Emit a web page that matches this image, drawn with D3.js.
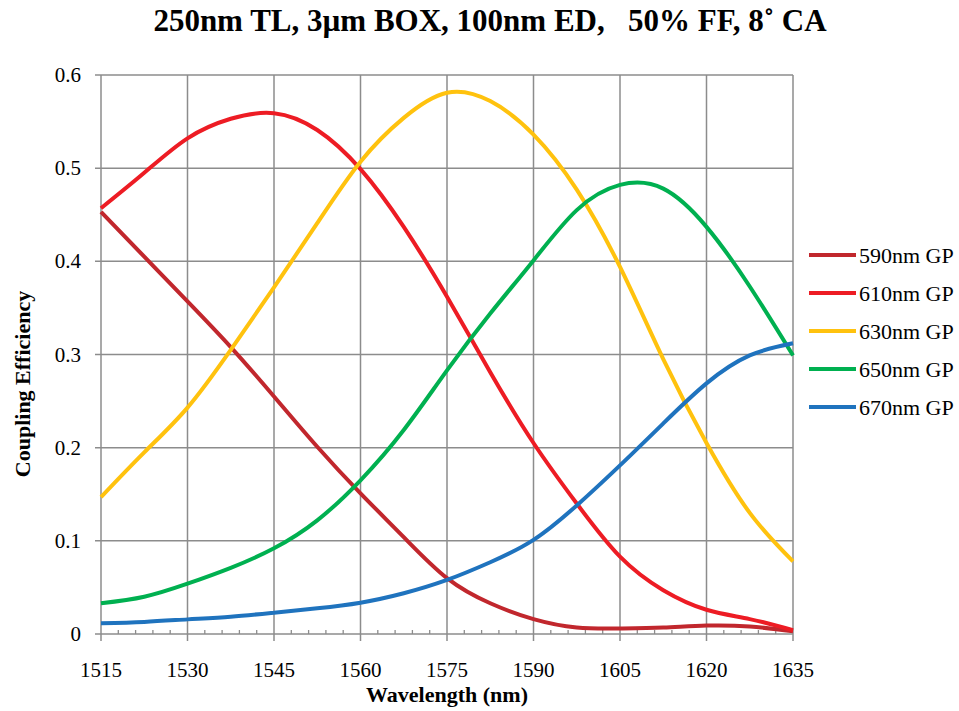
<!DOCTYPE html>
<html><head><meta charset="utf-8">
<script src="https://cdn.jsdelivr.net/npm/d3@7"></script>
<style>body{margin:0;background:#fff}</style>
</head><body>
<svg id="c" width="959" height="711"></svg>
<script>
const wavelengths = [1515,1522.5,1530,1537.5,1545,1552.5,1560,1567.5,1575,1582.5,1590,1597.5,1605,1612.5,1620,1627.5,1635];
const gp590 = [0.453,0.405,0.357,0.308,0.255,0.201,0.151,0.104,0.060,0.033,0.016,0.007,0.006,0.007,0.009,0.008,0.003];
const gp610 = [0.457,0.495,0.532,0.553,0.559,0.541,0.499,0.437,0.362,0.281,0.205,0.140,0.083,0.047,0.026,0.016,0.004];
const gp630 = [0.147,0.195,0.243,0.305,0.372,0.441,0.507,0.554,0.581,0.572,0.536,0.477,0.394,0.295,0.205,0.130,0.078];
const gp650 = [0.033,0.040,0.054,0.071,0.092,0.122,0.165,0.219,0.283,0.344,0.401,0.455,0.482,0.478,0.437,0.373,0.299];
const gp670 = [0.0115,0.013,0.0157,0.0186,0.0229,0.0276,0.0336,0.0437,0.058,0.077,0.101,0.138,0.181,0.226,0.269,0.299,0.312];
const seriesNames = ["590nm GP","610nm GP","630nm GP","650nm GP","670nm GP"];
const seriesColors = ["#c1272d","#ed1c24","#ffc20e","#00b050","#1f73be"];
const xTicks = [1515,1530,1545,1560,1575,1590,1605,1620,1635];
const yTicks = [0,0.1,0.2,0.3,0.4,0.5,0.6];
const title = "250nm TL, 3µm BOX, 100nm ED,   50% FF, 8˚ CA";

const svg = d3.select("#c");
const L=101, R=793, T=75, B=634;
const x = d3.scaleLinear().domain([1515,1635]).range([L,R]);
const y = d3.scaleLinear().domain([0,0.6]).range([B,T]);
const grid="#8c8c8c";
const font="'Liberation Serif','Times New Roman',serif";

// gridlines
svg.append("g").selectAll("line").data(yTicks).join("line")
  .attr("x1",L-6).attr("x2",R).attr("y1",d=>y(d)).attr("y2",d=>y(d))
  .attr("stroke",grid).attr("stroke-width",1.5);
svg.append("g").selectAll("line").data(xTicks).join("line")
  .attr("x1",d=>x(d)).attr("x2",d=>x(d)).attr("y1",T).attr("y2",B+7)
  .attr("stroke",grid).attr("stroke-width",1.5);
// minor ticks
const minor = d3.range(1515,1636,3).filter(v=>!xTicks.includes(v));
svg.append("g").selectAll("line").data(minor).join("line")
  .attr("x1",d=>x(d)).attr("x2",d=>x(d)).attr("y1",B-4).attr("y2",B)
  .attr("stroke",grid).attr("stroke-width",1.3);

// labels
svg.append("g").selectAll("text").data(yTicks).join("text")
  .attr("x",81).attr("y",d=>y(d)+7).attr("text-anchor","end")
  .attr("font-family",font).attr("font-size",21).text(d=>d===0?"0":d3.format(".1f")(d));
svg.append("g").selectAll("text").data(xTicks).join("text")
  .attr("x",d=>x(d)).attr("y",677).attr("text-anchor","middle")
  .attr("font-family",font).attr("font-size",21).text(d=>d);

svg.append("text").attr("x",490).attr("y",31).attr("text-anchor","middle")
  .attr("font-family",font).attr("font-weight","bold").attr("font-size",31)
  .attr("xml:space","preserve").style("white-space","pre").text(title);
svg.append("text").attr("x",447).attr("y",702).attr("text-anchor","middle")
  .attr("font-family",font).attr("font-weight","bold").attr("font-size",22).text("Wavelength (nm)");
svg.append("text").attr("transform","translate(30,384) rotate(-90)").attr("text-anchor","middle")
  .attr("font-family",font).attr("font-weight","bold").attr("font-size",22).text("Coupling Efficiency");

const all=[gp590,gp610,gp630,gp650,gp670];
const line=d3.line().x((d,i)=>x(wavelengths[i])).y(d=>y(d)).curve(d3.curveNatural);
svg.append("g").selectAll("path").data(all).join("path")
  .attr("d",d=>line(d)).attr("fill","none")
  .attr("stroke",(d,i)=>seriesColors[i]).attr("stroke-width",4).attr("stroke-linejoin","round");

// legend
const lg=svg.append("g").selectAll("g").data(seriesNames).join("g")
  .attr("transform",(d,i)=>`translate(809,${255+i*38})`);
lg.append("line").attr("x1",0).attr("x2",47).attr("stroke",(d,i)=>seriesColors[i]).attr("stroke-width",4);
lg.append("text").attr("x",50).attr("y",8).attr("font-family",font).attr("font-size",22).text(d=>d);
</script>
</body></html>
